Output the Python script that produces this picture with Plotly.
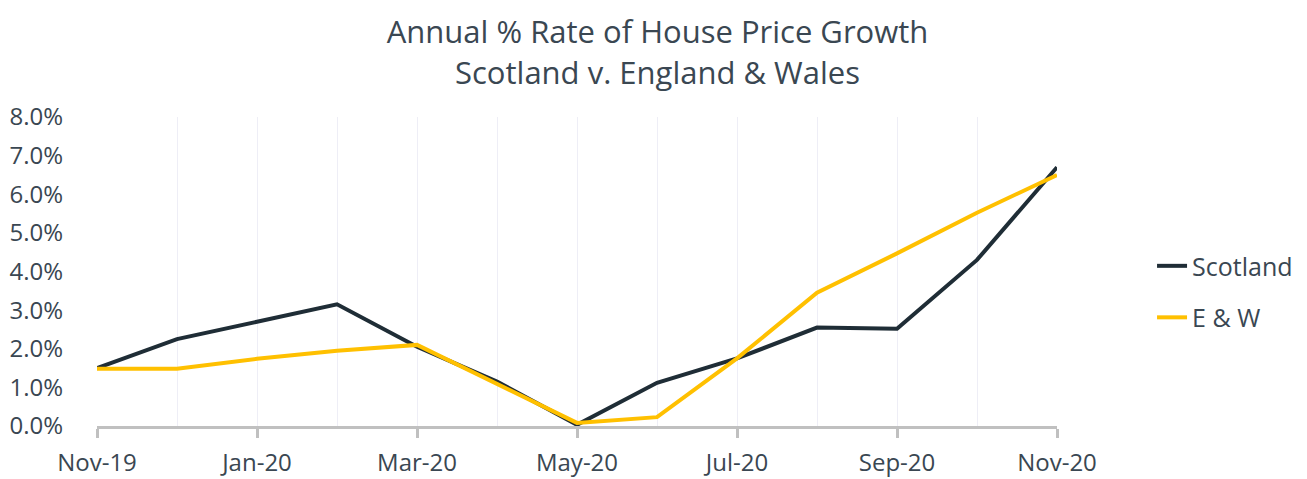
import plotly.graph_objects as go

months = ["Nov-19", "Dec-19", "Jan-20", "Feb-20", "Mar-20", "Apr-20", "May-20",
          "Jun-20", "Jul-20", "Aug-20", "Sep-20", "Oct-20", "Nov-20"]
scotland = [1.50, 2.25, 2.70, 3.15, 2.05, 1.15, 0.03, 1.12, 1.75, 2.55, 2.52, 4.30, 6.70]
ew = [1.48, 1.48, 1.74, 1.95, 2.10, 1.10, 0.08, 0.23, 1.75, 3.45, 4.47, 5.52, 6.50]
y_ticks = [0, 1, 2, 3, 4, 5, 6, 7, 8]

x_idx = list(range(len(months)))
label_idx = x_idx[::2]
label_text = months[::2]

TEXT = "#3a4752"
fig = go.Figure()
fig.add_trace(go.Scatter(x=x_idx, y=[v / 100 for v in scotland], name="Scotland",
                         mode="lines", line=dict(color="#1f2d36", width=4),
                         legendgroup="a"))
fig.add_trace(go.Scatter(x=x_idx, y=[v / 100 for v in ew], name="E & W",
                         mode="lines", line=dict(color="#ffc000", width=4),
                         legendgroup="b"))

fig.update_layout(
    width=1299, height=471,
    margin=dict(l=89, r=250, t=109, b=53, autoexpand=False),
    paper_bgcolor="white", plot_bgcolor="white",
    font=dict(family="Open Sans", color=TEXT, size=24),
    title=dict(text="Annual % Rate of House Price Growth<br>Scotland v. England & Wales",
               x=0.5, xanchor="center", y=0.925, yanchor="middle",
               font=dict(size=31, color=TEXT)),
    legend=dict(x=1.099, y=0.435, xanchor="left", yanchor="middle",
                font=dict(size=25, color=TEXT), tracegroupgap=16,
                bgcolor="rgba(0,0,0,0)"),
    xaxis=dict(range=[0, 12], tickmode="array", tickvals=label_idx, ticktext=label_text,
               showline=True, linecolor="#c0c0c0", linewidth=3,
               ticks="outside", ticklen=9, tickwidth=3, tickcolor="#c0c0c0",
               ticklabelstandoff=4, automargin=False,
               showgrid=True, gridcolor="#eeeef6", gridwidth=1,
               minor=dict(tickmode="linear", tick0=0, dtick=1, showgrid=True,
                          gridcolor="#eeeef6", gridwidth=1, ticks=""),
               zeroline=False, tickfont=dict(size=24, color=TEXT)),
    yaxis=dict(range=[0, 0.08], tickmode="array", tickvals=[v / 100 for v in y_ticks],
               tickformat=".1%", showgrid=False, zeroline=False, showline=False,
               ticks="outside", ticklen=28, tickcolor="rgba(0,0,0,0)", automargin=False,
               tickfont=dict(size=24, color=TEXT)),
)

fig.write_html("out.html")
